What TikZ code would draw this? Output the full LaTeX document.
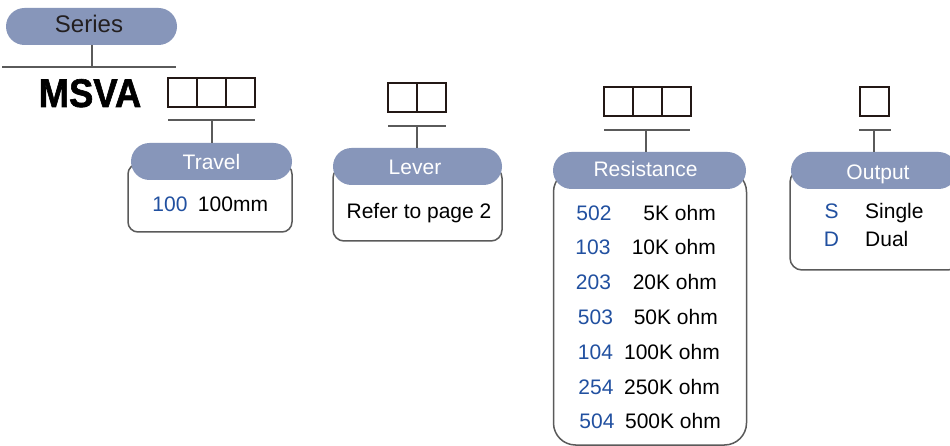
\documentclass[tikz,border=0pt]{standalone}
\usepackage{fontspec}
\setmainfont{Liberation Sans}
\newfontfamily\msvafont[FakeBold=1.6]{Liberation Sans Bold}
\definecolor{pillc}{HTML}{8796BA}
\definecolor{codec}{HTML}{2150A0}
\definecolor{linec}{HTML}{5A5A5A}
\definecolor{boxc}{HTML}{231815}
\definecolor{darktext}{HTML}{231F20}
\tikzset{
  pill/.style={fill=pillc, draw=none, rounded corners=18.5pt, minimum height=37pt, inner sep=0pt},
  pilltext/.style={text=white, font=\fontsize{21}{21}\selectfont, anchor=base, inner sep=0pt},
  bodybox/.style={draw=linec, line width=1.5pt, fill=white, inner sep=0pt},
  cell/.style={draw=boxc, line width=1.6pt, minimum width=29pt, minimum height=29pt, inner sep=0pt},
  conn/.style={draw=linec, line width=1.6pt},
  code/.style={text=codec, font=\fontsize{21}{21}\selectfont, anchor=base, inner sep=0pt},
  val/.style={text=black, font=\fontsize{21}{21}\selectfont, anchor=base east, inner sep=0pt},
  txt/.style={text=black, font=\fontsize{21}{21}\selectfont, anchor=base, inner sep=0pt},
}
\begin{document}
\begin{tikzpicture}[x=1pt,y=-1pt]
\clip (0,0) rectangle (950,446);
\fill[white] (0,0) rectangle (950,446);

% Series
\node[pill, minimum width=171pt] (series) at (91.5,26.5) {};
\node[anchor=base, inner sep=0pt, text=darktext, font=\fontsize{24}{24}\selectfont] (seriest) at (89,32.5) {Series};
\coordinate (sl) at (2,67);
\coordinate (sr) at (176,67);
\coordinate (sj) at (92,67);
\draw[conn] (sl) -- (sr);
\draw[conn] (series.south -| sj) -- (sj);

% MSVA
\node[anchor=base, inner sep=0pt, font=\msvafont\fontsize{40}{40}\selectfont, xscale=0.91] (msva) at (90,107) {MSVA};

% Travel
\node[cell] (t1) at (182.5,92.5) {};
\node[cell] (t2) at (211.5,92.5) {};
\node[cell] (t3) at (240.5,92.5) {};
\coordinate (tl) at (168,120);
\coordinate (tr) at (255,120);
\coordinate (tj) at (212,120);
\draw[conn] (tl) -- (tr);
\node[bodybox, rounded corners=10pt, minimum width=164pt, minimum height=68pt] (tbody) at (210,198) {};
\node[pill, minimum width=161pt] (travel) at (211.5,161.5) {};
\draw[conn] (tj) -- (travel.north -| tj);
\node[pilltext] (travelt) at (211.5,170) {Travel};
\node[code] (t100) at (170,212) {100};
\node[txt] (t100mm) at (233,212) {100mm};

% Lever
\node[cell] (l1) at (402.5,97.5) {};
\node[cell] (l2) at (431.5,97.5) {};
\coordinate (ll) at (388,126);
\coordinate (lr) at (446,126);
\coordinate (lj) at (417,126);
\draw[conn] (ll) -- (lr);
\node[bodybox, rounded corners=11pt, minimum width=169pt, minimum height=74pt] (lbody) at (417.5,204) {};
\node[pill, minimum width=169pt] (lever) at (417.5,166.5) {};
\draw[conn] (lj) -- (lever.north -| lj);
\node[pilltext] (levert) at (415,175) {Lever};
\node[txt] (lref) at (419,218.5) {Refer to page 2};

% Resistance
\node[cell] (r1) at (618.5,101.5) {};
\node[cell] (r2) at (647.5,101.5) {};
\node[cell] (r3) at (676.5,101.5) {};
\coordinate (rl) at (604,130);
\coordinate (rr) at (690,130);
\coordinate (rj) at (646,130);
\draw[conn] (rl) -- (rr);
\node[bodybox, rounded corners=22pt, minimum width=193pt, minimum height=275pt] (rbody) at (650,307.5) {};
\node[pill, minimum width=193pt] (resist) at (649.5,170.5) {};
\draw[conn] (rj) -- (resist.north -| rj);
\node[pilltext] (resistt) at (645.5,176.5) {Resistance};
\node[code] (c1) at (594,221) {502};
\node[code] (c2) at (593,255) {103};
\node[code] (c3) at (593.5,289.5) {203};
\node[code] (c4) at (595.5,324) {503};
\node[code] (c5) at (595.5,359) {104};
\node[code] (c6) at (596,394) {254};
\node[code] (c7) at (597,428.5) {504};
\node[val] (v1) at (716,221) {5K ohm};
\node[val] (v2) at (716,255) {10K ohm};
\node[val] (v3) at (717,289.5) {20K ohm};
\node[val] (v4) at (718,324) {50K ohm};
\node[val] (v5) at (720,359) {100K ohm};
\node[val] (v6) at (720,394) {250K ohm};
\node[val] (v7) at (721,428.5) {500K ohm};

% Output
\node[cell] (o1) at (874.5,101.5) {};
\coordinate (ol) at (859,130);
\coordinate (or) at (891,130);
\coordinate (oj) at (874,130);
\draw[conn] (ol) -- (or);
\node[bodybox, rounded corners=12pt, minimum width=170pt, minimum height=100pt] (obody) at (875,220) {};
\node[pill, minimum width=166pt] (output) at (874,170.5) {};
\draw[conn] (oj) -- (output.north -| oj);
\node[pilltext] (outputt) at (878,179.5) {Output};
\node[code] (os) at (831.5,218.5) {S};
\node[code] (od) at (831.5,247) {D};
\node[txt, anchor=base west] (osingle) at (865,218.5) {Single};
\node[txt, anchor=base west] (odual) at (865,247) {Dual};
\end{tikzpicture}
\end{document}
